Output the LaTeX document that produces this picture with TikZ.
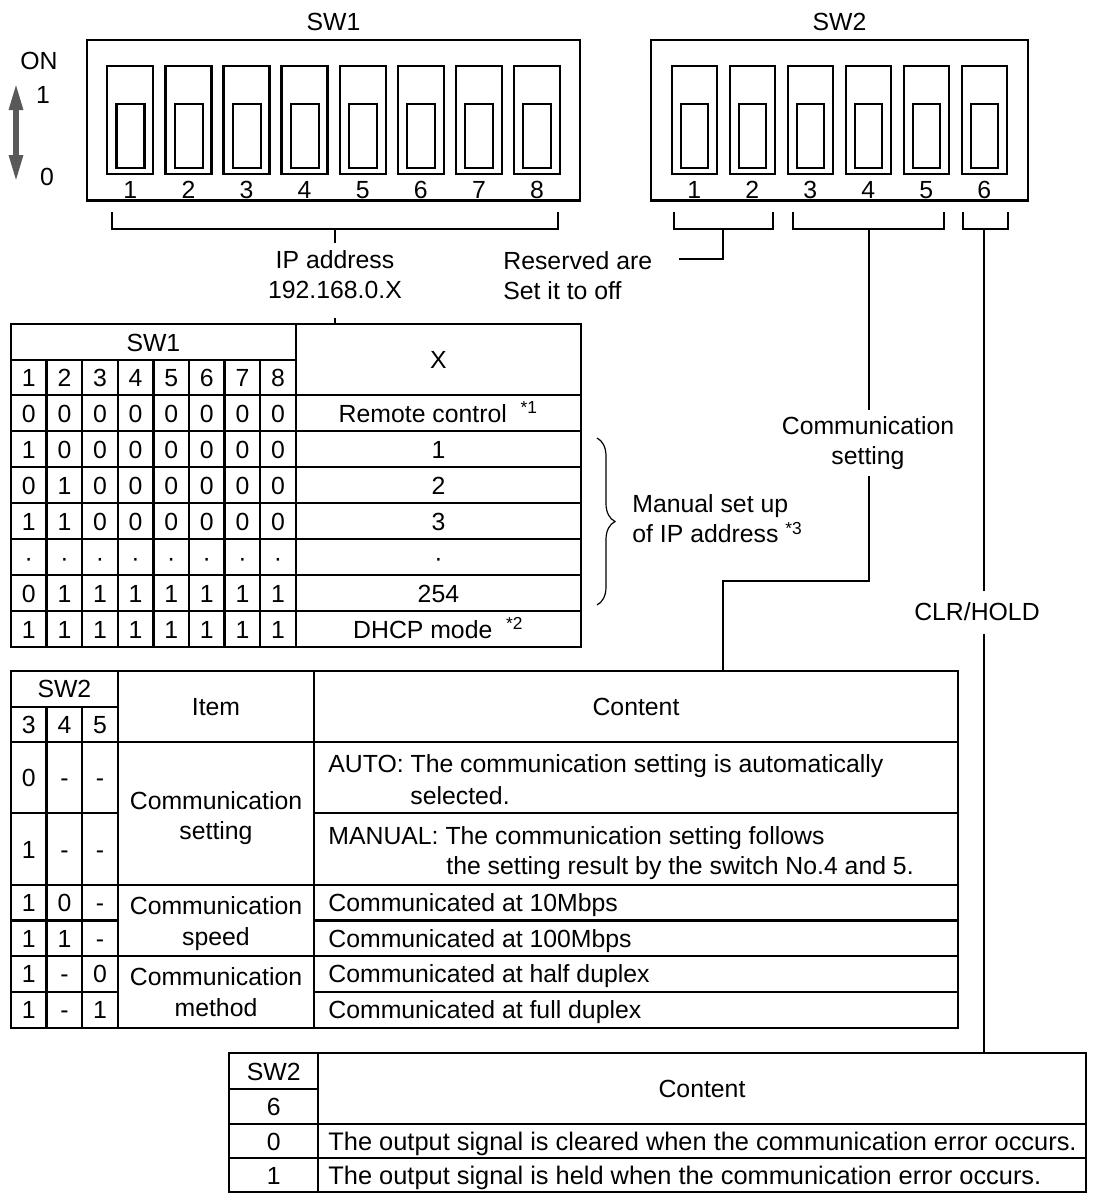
\documentclass[tikz,border=0pt]{standalone}
\usepackage{fontspec}
\setmainfont{Liberation Sans}
\usetikzlibrary{arrows.meta,decorations.pathreplacing,calc}

\tikzset{
	trait/.style={line width=1.15pt},
	lien/.style={line width=0.95pt},
	txt/.style={inner sep=0pt,font=\fontsize{12.4}{15}\selectfont},
	cell/.style={txt,anchor=base},
	celg/.style={txt,anchor=base west},
	lbl/.style={txt,align=center,inner sep=4pt},
}

\begin{document}
\begin{tikzpicture}[x=0.5pt,y=-0.5pt,>=stealth]
		\useasboundingbox (0,0) rectangle (1096,1196);
		% SW1
		\node[txt] (sw1) at (333.5,22) {SW1};
		\draw[trait] (87,40) rectangle (580,200.5);
		\foreach \i in {1,...,8}{
			\pgfmathsetmacro{\xa}{107.3+58.1*(\i-1)}
			\draw[trait] (\xa,66) rectangle ++(46,108);
			\draw[trait] (\xa+9.3,104) rectangle ++(28,64);
			\node[cell] (na\i) at (\xa+23,198.7) {\i};
		}
		% SW2
		\node[txt] (sw2) at (839.5,22) {SW2};
		\draw[trait] (651,40) rectangle (1028,200.5);
		\foreach \i in {1,...,6}{
			\pgfmathsetmacro{\xa}{671.7+58*(\i-1)}
			\draw[trait] (\xa,66) rectangle ++(45,108);
			\draw[trait] (\xa+9.3,104) rectangle ++(27,64);
			\node[cell] (nb\i) at (\xa+22.5,198.7) {\i};
		}
		% ON 1/0
		\node[txt] (on) at (39,61) {ON};
		\node[txt] (un) at (43,95) {1};
		\node[txt] (zero) at (47,177) {0};
		\draw[line width=2.8pt,black!65,{Triangle[length=13.5pt,width=6.5pt]}-{Triangle[length=13.5pt,width=6.5pt]}] (16,83) -- (16,182);

		% accolades sous les interrupteurs
		\draw[lien] (111.7,212) |- (558,229.3) -- (558,212);
		\draw[lien] (674.3,212) |- (772.7,229.3) -- (772.7,212);
		\draw[lien] (793.3,212) |- (944,229.3) -- (944,212);
		\draw[lien] (962.7,212) |- (1007.7,229.3) -- (1007.7,212);
		\coordinate (b1) at (335,229.3);
		\coordinate (b2) at (723.3,229.3);
		\coordinate (b3) at (869.3,229.3);
		\coordinate (b6) at (984.3,229.3);

		\node[lbl] (ip) at (335,275) {IP address\\192.168.0.X};
		\coordinate (t1n) at (335,324);
		\draw[lien] (b1) -- (ip.north);
		\draw[lien,shorten <=5pt] (ip.south) -- (t1n);

		\node[txt,align=left,anchor=west] (resv) at (503,276) {Reserved are\\Set it to off};
		\coordinate (r2) at (679.3,259.3);
		\draw[lien] (b2) |- (r2);

		\node[lbl,inner sep=3pt] (comm) at (868,443) {Communication\\setting};
		\coordinate (cc) at (869.3,581);
		\coordinate (t2n) at (723.3,670.7);
		\draw[lien] (b3) -- (b3 |- comm.north);
		\draw[lien] (b3 |- comm.south) -- (cc) -| (t2n);

		\node[lbl,inner sep=6pt] (clr) at (977,612) {CLR/HOLD};
		\coordinate (t3n) at (984.3,1053.3);
		\draw[lien] (b6) -- (b6 |- clr.north);
		\draw[lien] (b6 |- clr.south) -- (t3n);

		% tableau SW1
		\draw[trait] (11,324) rectangle (581,647);
		\draw[trait] (11,360) -- (295.8,360);
		\foreach \x in {46.6,82.2,117.8,153.4,189,224.6,260.2}
			\draw[trait] (\x,360) -- (\x,647);
		\draw[trait] (295.8,324) -- (295.8,647);
		\foreach \y in {395,431,467,503,539,575,611}
			\draw[trait] (11,\y) -- (581,\y);
		\node[cell] (h1) at (153.4,351) {SW1};
		\node[cell] (hx) at (438.4,368) {X};
		\foreach \i in {1,...,8}
			\node[cell] (c\i) at (28.8+35.6*\i-35.6,386.5) {\i};
		\foreach \ligne [count=\r] in {{0,0,0,0,0,0,0,0},{1,0,0,0,0,0,0,0},{0,1,0,0,0,0,0,0},{1,1,0,0,0,0,0,0},{·,·,·,·,·,·,·,·},{0,1,1,1,1,1,1,1},{1,1,1,1,1,1,1,1}}{
			\foreach \v [count=\c] in \ligne
				\node[cell] (d\r-\c) at (28.8+35.6*\c-35.6,386.5+36*\r) {\v};
		}
		\foreach \v [count=\r] in {Remote control\ \ \textsuperscript{*1},1,2,3,·,254,DHCP mode\ \ \textsuperscript{*2}}
			\node[cell] (x\r) at (438.4,386.5+36*\r) {\v};
		\draw[line width=0.6pt,decorate,decoration={brace,amplitude=9pt}] (597,438) -- (597,605);
		\node[txt,align=left,anchor=west] (man) at (632,519) {Manual set up\\of IP address\ \textsuperscript{*3}};

		% tableau SW2 3-5
		\draw[trait] (11,670.7) rectangle (957.7,1027.7);
		\draw[trait] (11,706.7) -- (117.8,706.7);
		\draw[trait] (46.6,706.7) -- (46.6,1027.7);
		\draw[trait] (82.2,706.7) -- (82.2,1027.7);
		\draw[trait] (117.8,670.7) -- (117.8,1027.7);
		\draw[trait] (314,670.7) -- (314,1027.7);
		\foreach \y in {741.7,885,956}
			\draw[trait] (11,\y) -- (957.7,\y);
		\foreach \y in {813.3,920.5,991.7}{
			\draw[trait] (11,\y) -- (117.8,\y);
			\draw[trait] (314,\y) -- (957.7,\y);
		}
		\node[cell] (s2) at (64.4,697.5) {SW2};
		\foreach \i [count=\c] in {3,4,5}
			\node[cell] (k\i) at (28.8+35.6*\c-35.6,733) {\i};
		\node[cell] (item) at (216,715) {Item};
		\node[cell] (cont) at (636,715) {Content};
		\foreach \ligne/\yb [count=\r] in {{0,-,-}/786.5,{1,-,-}/858,{1,0,-}/911.7,{1,1,-}/947.2,{1,-,0}/982.8,{1,-,1}/1018.7}{
			\foreach \v [count=\c] in \ligne
				\node[cell] (e\r-\c) at (28.8+35.6*\c-35.6,\yb) {\v};
		}
		\node[cell] (i1a) at (216,809) {Communication};
		\node[cell] (i1b) at (216,839) {setting};
		\node[cell] (i2a) at (216,914) {Communication};
		\node[cell] (i2b) at (216,945) {speed};
		\node[cell] (i3a) at (216,985.7) {Communication};
		\node[cell] (i3b) at (216,1016) {method};
		\node[celg] (a1) at (328,772) {AUTO: The communication setting is automatically};
		\node[celg] (a2) at (410,804) {selected.};
		\node[celg] (m1) at (328,844) {MANUAL: The communication setting follows};
		\node[celg] (m2) at (446,874) {the setting result by the switch No.4 and 5.};
		\node[celg] (v1) at (328,911.7) {Communicated at 10Mbps};
		\node[celg] (v2) at (328,947.2) {Communicated at 100Mbps};
		\node[celg] (v3) at (328,982.8) {Communicated at half duplex};
		\node[celg] (v4) at (328,1018.7) {Communicated at full duplex};

		% tableau SW2 6
		\draw[trait] (229,1053.3) rectangle (1086,1192);
		\draw[trait] (318.3,1053.3) -- (318.3,1192);
		\draw[trait] (229,1089.3) -- (318.3,1089.3);
		\foreach \y in {1124,1158.3}
			\draw[trait] (229,\y) -- (1086,\y);
		\node[cell] (s3) at (273.7,1080) {SW2};
		\node[cell] (s6) at (273.7,1115.5) {6};
		\node[cell] (cont3) at (702,1097.5) {Content};
		\node[cell] (o0) at (273.7,1150) {0};
		\node[cell] (o1) at (273.7,1184) {1};
		\node[celg,font=\fontsize{12.7}{15}\selectfont] (w0) at (328,1150) {The output signal is cleared when the communication error occurs.};
		\node[celg,font=\fontsize{12.7}{15}\selectfont] (w1) at (328,1184) {The output signal is held when the communication error occurs.};

	\end{tikzpicture}
\end{document}
